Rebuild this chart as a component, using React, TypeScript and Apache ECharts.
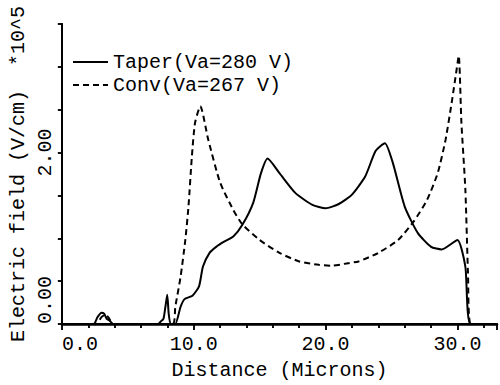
import React, { useEffect, useRef } from "react";
import * as echarts from "echarts";

const taperX = [0, 2.4, 2.7, 3.0, 3.2, 3.4, 3.6, 3.9, 7.3, 7.5, 7.7, 7.85, 7.99, 8.1, 8.25, 8.6, 9.0, 9.3, 9.9, 10.4, 10.7, 11.2, 11.7, 12.3, 13.0, 13.7, 14.5, 15.1, 15.6, 16.5, 17.7, 19.0, 20.0, 21.0, 22.0, 23.0, 23.8, 24.5, 25.1, 26.0, 27.0, 28.0, 28.8, 30.0, 30.6, 31.0, 33.0];
const taperY = [0, 0, 0.08, 0.13, 0.12, 0.06, 0.04, 0, 0, 0.03, 0.06, 0.2, 0.34, 0.12, 0, 0, 0.2, 0.29, 0.33, 0.44, 0.67, 0.83, 0.9, 0.96, 1.02, 1.16, 1.41, 1.76, 1.93, 1.76, 1.53, 1.39, 1.35, 1.4, 1.51, 1.72, 2.02, 2.11, 1.88, 1.37, 1.06, 0.9, 0.87, 0.98, 0.67, 0, 0];

const convX = [0, 2.6, 3.0, 3.3, 3.6, 3.9, 8.4, 8.6, 9.0, 9.36, 9.6, 9.86, 10.1, 10.5, 11.1, 12.0, 13.0, 13.7, 15.0, 16.5, 18.0, 19.5, 20.5, 21.7, 22.5, 24.0, 25.5, 26.7, 27.7, 28.5, 29.1, 29.6, 29.9, 30.1, 30.3, 30.6, 30.8, 31.0, 33.0];
const convY = [0, 0, 0.08, 0.11, 0.06, 0, 0, 0.2, 0.55, 0.98, 1.37, 1.96, 2.35, 2.54, 2.15, 1.65, 1.33, 1.16, 0.98, 0.83, 0.73, 0.69, 0.68, 0.71, 0.73, 0.83, 0.98, 1.2, 1.45, 1.76, 2.15, 2.62, 2.93, 3.13, 2.35, 1.57, 0.59, 0, 0];

const seriesNames = ["Taper(Va=280 V)", "Conv(Va=267 V)"];
const yLabelValues = [0, 2];

const FONT = "'Liberation Mono', 'Courier New', monospace";

export default function App() {
  const ref = useRef<HTMLDivElement>(null);
  useEffect(() => {
    if (!ref.current) return;
    const chart = echarts.init(ref.current, undefined, { renderer: "svg" });
    const zip = (xs: number[], ys: number[]) => xs.map((x, i) => [x, ys[i]]);
    const axisLine = { show: true, lineStyle: { color: "#000", width: 2 } };
    chart.setOption({
      animation: false,
      backgroundColor: "#fff",
      textStyle: { fontFamily: FONT, color: "#000" },
      grid: { left: 60, top: 24, right: 1, bottom: 61, containLabel: false },
      legend: {
        orient: "vertical",
        left: 67,
        top: 47,
        itemWidth: 35,
        itemHeight: 14,
        itemGap: 3,
        itemStyle: { opacity: 0 },
        textStyle: { fontFamily: FONT, fontSize: 20, color: "#000", lineHeight: 20 },
        data: seriesNames,
      },
      xAxis: [
        {
          type: "value",
          min: 0,
          max: 33,
          interval: 10,
          position: "bottom",
          name: "Distance (Microns)",
          nameLocation: "middle",
          nameGap: 36,
          nameTextStyle: { fontFamily: FONT, fontSize: 20, color: "#000" },
          axisLine: { show: true, lineStyle: { color: "#000", width: 2.5 } },
          axisTick: { show: true, inside: false, length: 6, lineStyle: { color: "#000", width: 1.5 } },
          minorTick: { show: true, splitNumber: 5, length: 4, lineStyle: { color: "#000", width: 1.5 } },
          splitLine: { show: false },
          axisLabel: {
            fontFamily: FONT,
            fontSize: 20,
            color: "#000",
            margin: 10,
            alignMinLabel: "left",
            formatter: (v: number) => (v <= 30 ? v.toFixed(1) : ""),
          },
        },
        {
          type: "value",
          min: 0,
          max: 33,
          interval: 10,
          position: "top",
          axisLine,
          axisTick: { show: true, inside: true, length: 6, lineStyle: { color: "#000", width: 1.5 } },
          minorTick: { show: true, splitNumber: 5, length: 4, lineStyle: { color: "#000", width: 1.5 } },
          splitLine: { show: false },
          axisLabel: { show: false },
        },
      ],
      yAxis: [
        {
          type: "value",
          min: 0,
          max: 3.5,
          interval: 0.5,
          position: "left",
          name: "Electric field (V/cm)  *10^5",
          nameLocation: "middle",
          nameGap: 33,
          nameRotate: 90,
          nameTextStyle: { fontFamily: FONT, fontSize: 20, color: "#000" },
          axisLine,
          axisTick: { show: true, inside: false, length: 4, lineStyle: { color: "#000", width: 1.5 } },
          splitLine: { show: false },
          axisLabel: {
            fontFamily: FONT,
            fontSize: 20,
            color: "#000",
            rotate: 90,
            margin: 6,
            alignMinLabel: "left",
            formatter: (v: number) => (yLabelValues.includes(v) ? v.toFixed(2) : ""),
          },
        },
        {
          type: "value",
          min: 0,
          max: 3.5,
          interval: 0.5,
          position: "right",
          axisLine,
          axisTick: { show: true, inside: true, length: 4, lineStyle: { color: "#000", width: 1.5 } },
          splitLine: { show: false },
          axisLabel: { show: false },
        },
      ],
      series: [
        {
          name: seriesNames[0],
          type: "line",
          data: zip(taperX, taperY),
          symbol: "none",
          smooth: 0.2,
          lineStyle: { color: "#000", width: 2, type: "solid" },
          itemStyle: { color: "#000" },
        },
        {
          name: seriesNames[1],
          type: "line",
          data: zip(convX, convY),
          symbol: "none",
          smooth: 0.2,
          lineStyle: { color: "#000", width: 2, type: [6, 4] },
          itemStyle: { color: "#000" },
        },
      ],
    });
    return () => chart.dispose();
  }, []);
  return <div ref={ref} style={{ width: 500, height: 385, position: "absolute", left: 0, top: 0 }} />;
}
